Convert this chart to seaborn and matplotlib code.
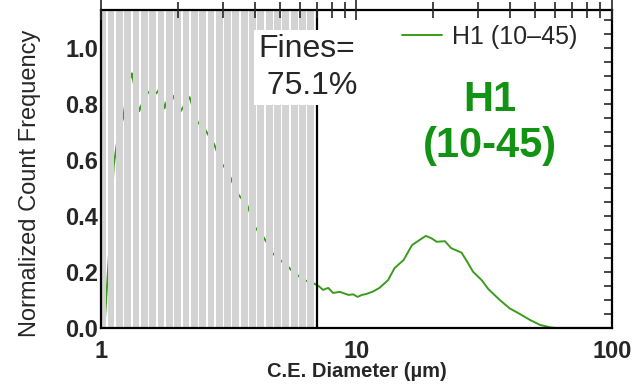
import numpy as np
import pandas as pd
import matplotlib
matplotlib.use("Agg")
import matplotlib.pyplot as plt
import seaborn as sns
from matplotlib.ticker import FixedLocator, NullFormatter, MultipleLocator

# ---- data ----
diameter = [1.03, 1.08, 1.12, 1.17, 1.22, 1.27, 1.32, 1.37, 1.41, 1.47, 1.52, 1.58,
            1.65, 1.71, 1.77, 1.84, 1.91, 1.98, 2.05, 2.13, 2.22, 2.30, 2.39, 2.48,
            2.57, 2.67, 2.77, 2.87, 2.98, 3.10, 3.22, 3.34, 3.46, 3.60, 3.73, 3.87,
            4.01, 4.16, 4.32, 4.49, 4.66, 4.84, 5.02, 5.22, 5.42, 5.63, 5.84, 6.06,
            6.28, 6.53, 6.78, 7.1, 7.4, 7.75, 8.1, 8.6, 9.3, 9.7, 10.1, 10.5, 10.9,
            11.6, 12.3, 13.3, 14.1, 15.3, 16.5, 17.5, 18.7, 19.7, 20.6, 22.2, 23.5,
            25.8, 27.2, 28.6, 30.9, 32.9, 36.4, 39.8, 43.6, 47.7, 52.3, 57, 60, 100]
frequency = [0.0, 0.30, 0.58, 0.70, 0.75, 0.86, 0.91, 0.83, 0.775, 0.82, 0.845, 0.83,
             0.84, 0.86, 0.785, 0.83, 0.83, 0.80, 0.775, 0.80, 0.825, 0.78, 0.735, 0.72,
             0.705, 0.68, 0.657, 0.62, 0.585, 0.565, 0.535, 0.50, 0.475, 0.455, 0.44, 0.40,
             0.36, 0.34, 0.325, 0.30, 0.27, 0.255, 0.243, 0.23, 0.218, 0.20, 0.19, 0.18,
             0.17, 0.165, 0.16, 0.15, 0.136, 0.143, 0.125, 0.129, 0.118, 0.12, 0.111, 0.118, 0.121,
             0.13, 0.143, 0.171, 0.214, 0.243, 0.296, 0.312, 0.329, 0.32, 0.308, 0.31, 0.285,
             0.269, 0.235, 0.201, 0.171, 0.138, 0.10, 0.07, 0.05, 0.029, 0.011, 0.0025, 0.0, 0.0]
series_label = "H1 (10\u201345)"
fines_cut = 7.0
fines_text = "Fines=\n 75.1%"
title_text = "H1\n(10-45)"
x_ticks = [1, 10, 100]
x_ticklabels = ["1", "10", "100"]
y_ticks = [0.0, 0.2, 0.4, 0.6, 0.8, 1.0]

df = pd.DataFrame({"d": diameter, "f": frequency})

sns.set_style("white")
plt.rcParams["font.family"] = ["Liberation Sans", "DejaVu Sans"]

fig = plt.figure(figsize=(6.36, 3.89), dpi=100)
ax = fig.add_axes([0.159, 0.157, 0.803, 0.817])

green = "#3a9c1c"
sns.lineplot(data=df, x="d", y="f", ax=ax, color=green, lw=1.4,
             label=series_label, sort=False, estimator=None, zorder=2)

ax.set_xscale("log")
ax.set_xlim(1, 100)
ax.set_ylim(0, 1.136)

# fines shading: gray bars with thin white gaps (line shows through gaps)
step = 8.33 / 255.5
first = 5.7 / 255.5
gap = 1.6 / 255.5
centers = first + step * np.arange(26)
edges_lo = np.concatenate([[0.0], centers + gap / 2])
edges_hi = np.concatenate([centers - gap / 2, [np.log10(fines_cut)]])
for a, b in zip(edges_lo, edges_hi):
    ax.axvspan(10 ** a, 10 ** b, color="#d3d3d3", lw=0, zorder=3)
ax.axvline(fines_cut, color="black", lw=1.6, zorder=4)

ax.text(0.307, 0.925, fines_text, transform=ax.transAxes, fontsize=23,
        va="top", ha="left", linespacing=1.3, zorder=6,
        bbox=dict(facecolor="white", edgecolor="none", pad=3))
ax.text(0.761, 0.645, title_text, transform=ax.transAxes, fontsize=30,
        fontweight="bold", color="#139313", ha="center", va="center",
        linespacing=1.22, zorder=6)

leg = ax.legend(loc="center left", frameon=False, fontsize=18,
                handlelength=1.6, handletextpad=0.4, borderpad=0,
                borderaxespad=0, bbox_to_anchor=(0.589, 0.915))

# ticks
ax.xaxis.set_major_locator(FixedLocator(x_ticks))
ax.set_xticklabels(x_ticklabels)
ax.xaxis.set_minor_locator(FixedLocator([k * 10 ** e for e in range(0, 2) for k in range(2, 10)]))
ax.xaxis.set_minor_formatter(NullFormatter())
ax.set_yticks(y_ticks)
ax.set_yticklabels([f"{v:.1f}" for v in y_ticks])
ax.yaxis.set_minor_locator(MultipleLocator(0.05))
ax.tick_params(axis="x", which="major", direction="inout", length=14, width=1.2,
               top=True, labelsize=17, pad=2)
ax.tick_params(axis="x", which="minor", direction="inout", length=12, width=1.2, top=True)
ax.tick_params(axis="y", which="both", direction="in", length=6, width=1.2,
               right=True, labelsize=17, pad=2)
for lab in ax.get_xticklabels() + ax.get_yticklabels():
    lab.set_fontweight("bold")

for s in ax.spines.values():
    s.set_color("black")
    s.set_linewidth(1.6)
    s.set_zorder(5)
ax.xaxis.set_zorder(5)

ax.set_ylabel("Normalized Count Frequency", fontsize=17)
ax.yaxis.set_label_coords(-0.117, 0.456)
ax.set_xlabel("C.E. Diameter (\u00b5m)", fontsize=14.5, fontweight="bold", labelpad=-1)

fig.savefig("out.png", dpi=100)
